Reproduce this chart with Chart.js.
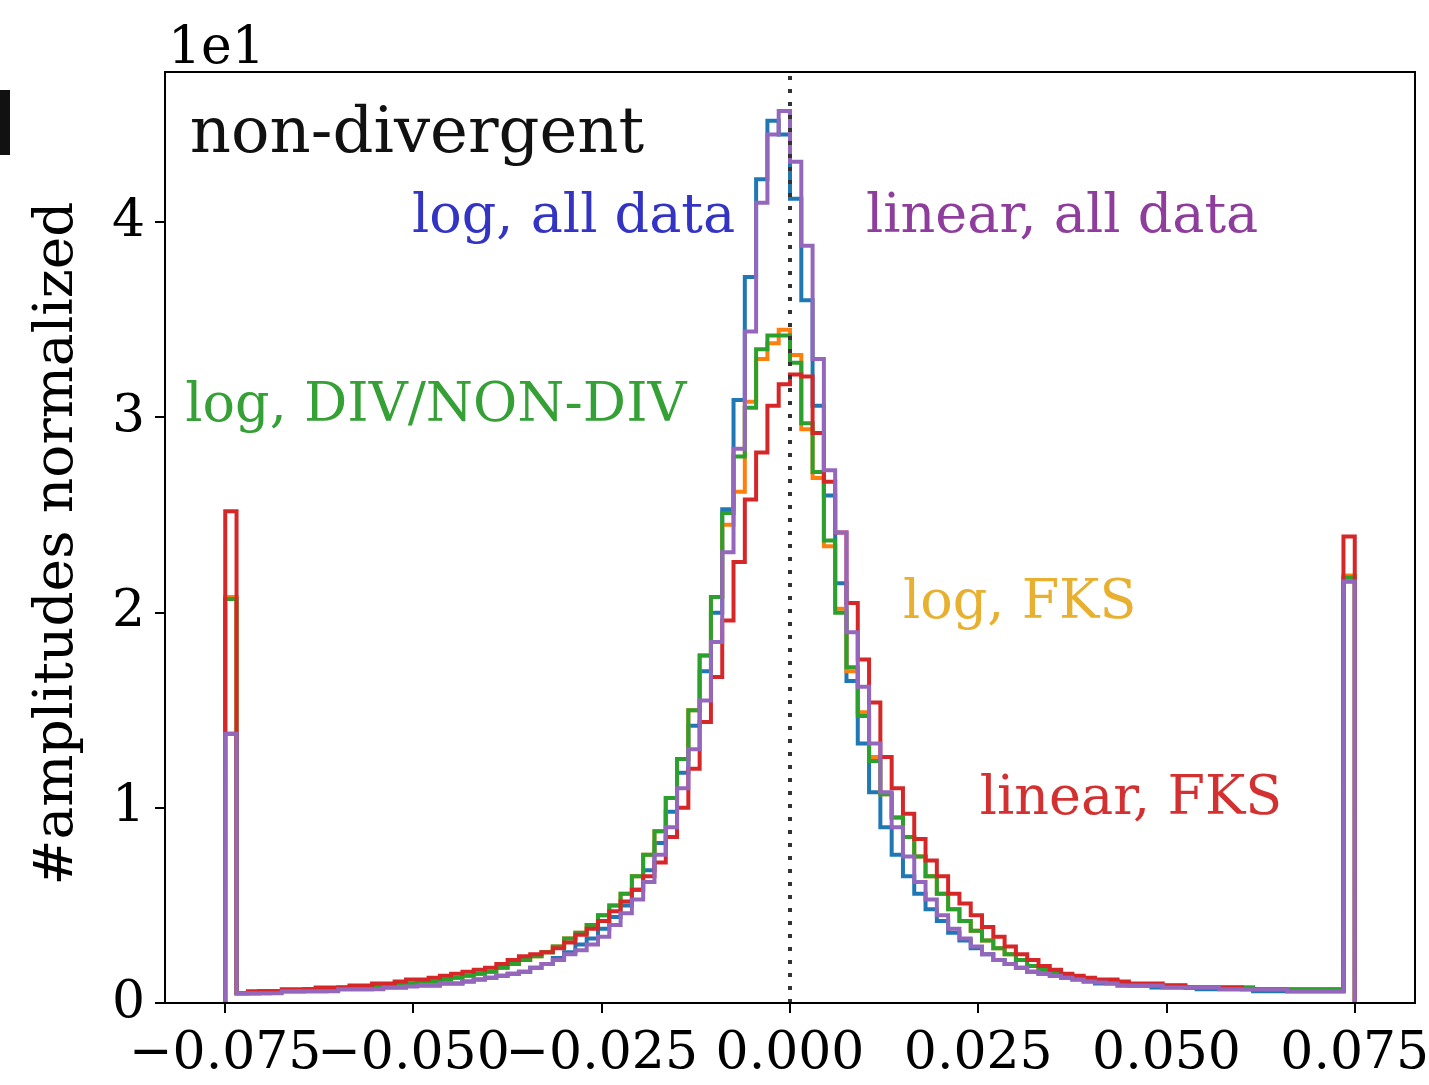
<!DOCTYPE html>
<html>
<head>
<meta charset="utf-8">
<script src="https://cdn.jsdelivr.net/npm/chart.js@4.4.0/dist/chart.umd.min.js"></script>
<style>
  html, body { margin: 0; padding: 0; background: #fff; }
  #wrap { width: 1429px; height: 1085px; }
</style>
</head>
<body>
<div id="wrap"><canvas id="histChart" width="1429" height="1085"></canvas></div>
<script>
// Step histograms of normalized amplitudes, 100 bins on [-0.075, 0.075]
// (outliers piled into the first and last bin)
const binStart = -0.075;
const binWidth = 0.0015;
const xTicks = [-0.075, -0.05, -0.025, 0, 0.025, 0.05, 0.075];
const yTicks = [0, 10, 20, 30, 40];

// blue
const logAllData = [13.8,
  0.5, 0.5, 0.5, 0.6, 0.6, 0.6, 0.6, 0.6, 0.7, 0.7, 0.7, 0.7, 0.8, 0.8, 0.8, 0.9, 0.9, 0.9, 1.0, 1.0,
  1.1, 1.2, 1.3, 1.4, 1.5, 1.6, 1.8, 2.0, 2.3, 2.6, 3.0, 3.3, 3.8, 4.4, 5.0, 5.8, 6.8, 8.2, 9.8, 11.8,
  14.2, 17.0, 20.0, 25.3, 30.9, 37.2, 42.2, 45.2, 44.5, 41.2, 36.0, 30.6, 26.0, 21.5, 16.5, 13.3, 10.8, 9.0, 7.6, 6.5,
  5.6, 4.8, 4.2, 3.6, 3.2, 2.8, 2.5, 2.2, 2.0, 1.8, 1.6, 1.5, 1.4, 1.3, 1.2, 1.1, 1.0, 1.0, 0.9, 0.9,
  0.9, 0.8, 0.8, 0.8, 0.8, 0.7, 0.7, 0.7, 0.7, 0.7, 0.6, 0.6, 0.6, 0.6, 0.6, 0.6, 0.6, 0.6, 21.6];

// orange
const logFks = [20.8,
  0.5, 0.5, 0.6, 0.6, 0.6, 0.6, 0.7, 0.7, 0.7, 0.8, 0.8, 0.8, 0.9, 0.9, 1.0, 1.0, 1.1, 1.1, 1.2, 1.3,
  1.4, 1.5, 1.6, 1.8, 2.0, 2.2, 2.4, 2.6, 2.9, 3.3, 3.6, 4.0, 4.5, 5.0, 5.6, 6.5, 7.6, 8.8, 10.5, 12.5,
  15.0, 17.8, 20.8, 24.5, 26.2, 30.8, 33.0, 33.8, 34.5, 33.2, 29.4, 26.9, 23.4, 20.2, 17.0, 14.9, 12.6, 10.7, 9.5, 8.5,
  7.5, 6.5, 5.6, 4.8, 4.2, 3.7, 3.2, 2.8, 2.5, 2.2, 1.9, 1.7, 1.55, 1.4, 1.3, 1.2, 1.15, 1.1, 1.0, 0.9,
  0.9, 0.9, 0.9, 0.9, 0.8, 0.8, 0.8, 0.8, 0.8, 0.8, 0.7, 0.7, 0.7, 0.7, 0.7, 0.7, 0.7, 0.7, 21.9];

// green
const logDivNonDiv = [20.7,
  0.5, 0.5, 0.6, 0.6, 0.6, 0.6, 0.7, 0.7, 0.7, 0.8, 0.8, 0.8, 0.9, 0.9, 1.0, 1.0, 1.1, 1.1, 1.2, 1.3,
  1.4, 1.5, 1.6, 1.8, 2.0, 2.2, 2.4, 2.6, 2.9, 3.3, 3.6, 4.0, 4.5, 5.0, 5.6, 6.5, 7.6, 8.8, 10.5, 12.5,
  15.0, 17.8, 20.8, 25.1, 28.0, 30.5, 33.5, 34.2, 34.2, 32.8, 29.7, 27.2, 23.7, 20.0, 17.2, 14.7, 12.4, 10.7, 9.5, 8.5,
  7.5, 6.5, 5.6, 4.8, 4.2, 3.7, 3.2, 2.8, 2.5, 2.2, 1.9, 1.7, 1.55, 1.4, 1.3, 1.2, 1.15, 1.1, 1.0, 0.9,
  0.9, 0.9, 0.9, 0.9, 0.8, 0.8, 0.8, 0.8, 0.8, 0.8, 0.7, 0.7, 0.7, 0.7, 0.7, 0.7, 0.7, 0.7, 21.8];

// red
const linearFks = [25.2,
  0.5, 0.6, 0.6, 0.6, 0.7, 0.7, 0.7, 0.8, 0.8, 0.8, 0.9, 0.9, 1.0, 1.0, 1.1, 1.2, 1.2, 1.3, 1.4, 1.5,
  1.6, 1.7, 1.8, 2.0, 2.2, 2.4, 2.5, 2.6, 2.8, 3.1, 3.5, 3.8, 4.2, 4.7, 5.2, 5.8, 6.5, 7.2, 8.5, 10.0,
  12.0, 14.4, 16.7, 19.6, 22.6, 25.8, 28.2, 30.6, 31.7, 32.2, 32.1, 29.2, 26.7, 24.1, 20.5, 17.6, 15.4, 12.6, 11.0, 9.7,
  8.4, 7.3, 6.5, 5.6, 5.1, 4.5, 3.9, 3.4, 2.9, 2.5, 2.2, 1.9, 1.7, 1.5, 1.4, 1.3, 1.2, 1.2, 1.1, 1.0,
  1.0, 1.0, 0.9, 0.9, 0.8, 0.8, 0.8, 0.8, 0.8, 0.7, 0.7, 0.7, 0.7, 0.6, 0.6, 0.6, 0.6, 0.6, 23.9];

// purple
const linearAllData = [13.8,
  0.5, 0.5, 0.5, 0.5, 0.6, 0.6, 0.6, 0.6, 0.6, 0.7, 0.7, 0.7, 0.7, 0.8, 0.8, 0.85, 0.9, 0.9, 1.0, 1.0,
  1.1, 1.2, 1.3, 1.4, 1.5, 1.6, 1.8, 2.0, 2.2, 2.5, 2.7, 3.0, 3.4, 4.0, 4.6, 5.3, 6.2, 7.6, 9.0, 11.0,
  13.0, 15.5, 18.5, 23.1, 28.4, 34.4, 41.0, 44.5, 45.7, 43.1, 38.8, 33.0, 27.3, 24.1, 19.0, 16.2, 13.3, 10.8, 9.0, 7.5,
  6.2, 5.3, 4.5, 3.8, 3.3, 2.9, 2.5, 2.2, 2.0, 1.8, 1.6, 1.5, 1.4, 1.3, 1.2, 1.1, 1.05, 1.0, 0.9, 0.9,
  0.9, 0.9, 0.8, 0.8, 0.8, 0.8, 0.8, 0.7, 0.7, 0.7, 0.7, 0.7, 0.7, 0.6, 0.6, 0.6, 0.6, 0.6, 21.6];

// text labels placed in data coordinates
const labels = [
  { text: 'non-divergent', color: '#111111', x: -0.0797, y: 43.6, size: 64 },
  { text: 'log, all data', color: '#3434c4', x: -0.0502, y: 39.5, size: 54 },
  { text: 'linear, all data', color: '#8e3d9c', x: 0.0101, y: 39.5, size: 54 },
  { text: 'log, DIV/NON-DIV', color: '#35a035', x: -0.0803, y: 29.8, size: 54 },
  { text: 'log, FKS', color: '#e8b030', x: 0.0150, y: 19.7, size: 54 },
  { text: 'linear, FKS', color: '#d33131', x: 0.0252, y: 9.7, size: 54 }
];

const FONT = "'DejaVu Serif', serif";

// turn bin heights into the outline of a step histogram
function stepPoints(values) {
  const pts = [{ x: binStart, y: 0 }];
  values.forEach((v, i) => pts.push({ x: binStart + i * binWidth, y: v }));
  const end = binStart + values.length * binWidth;
  pts.push({ x: end, y: values[values.length - 1] });
  pts.push({ x: end, y: 0 });
  return pts;
}

function histDataset(values, color, order) {
  return {
    data: stepPoints(values),
    borderColor: color,
    borderWidth: 4,
    stepped: 'before',   // horizontal run first, then the vertical step
    pointRadius: 0,
    fill: false,
    order: order,
    borderJoinStyle: 'miter'
  };
}

function minusSign(v) {
  return v.toFixed(3).replace('-', '\u2212');
}

// spines, axis title, offset text and the text labels
const decorations = {
  id: 'decorations',
  afterDraw(chart) {
    const ctx = chart.ctx;
    const a = chart.chartArea;
    const xs = chart.scales.x;
    const ys = chart.scales.y;
    ctx.save();

    ctx.strokeStyle = '#000';
    ctx.lineWidth = 2;
    ctx.strokeRect(a.left, a.top, a.right - a.left, a.bottom - a.top);

    labels.forEach(l => {
      ctx.font = l.size + 'px ' + FONT;
      ctx.fillStyle = l.color;
      ctx.textAlign = 'left';
      ctx.textBaseline = 'alphabetic';
      ctx.fillText(l.text, xs.getPixelForValue(l.x), ys.getPixelForValue(l.y));
    });

    ctx.fillStyle = '#000';
    ctx.font = '52px ' + FONT;
    ctx.textAlign = 'left';
    ctx.fillText('1e1', a.left + 3, a.top - 9);

    ctx.translate(58, (a.top + a.bottom) / 2 + 6);
    ctx.rotate(-Math.PI / 2);
    ctx.textAlign = 'center';
    ctx.textBaseline = 'middle';
    ctx.font = '55px ' + FONT;
    ctx.fillText('#amplitudes normalized', 0, 0);
    ctx.restore();

    // edge of the neighbouring panel letter
    ctx.fillStyle = '#111';
    ctx.fillRect(0, 90, 10, 65);
  }
};

const ctx = document.getElementById('histChart').getContext('2d');
new Chart(ctx, {
  type: 'line',
  data: {
    datasets: [
      histDataset(logAllData, '#1f77b4', 5),
      histDataset(logFks, '#ff7f0e', 4),
      histDataset(logDivNonDiv, '#2ca02c', 3),
      histDataset(linearFks, '#d62728', 2),
      histDataset(linearAllData, '#9467bd', 1),
      {
        data: [{ x: 0, y: 0 }, { x: 0, y: 47.7 }],
        borderColor: '#333',
        borderWidth: 4,
        borderDash: [4, 9],
        pointRadius: 0,
        fill: false,
        order: 0
      }
    ]
  },
  options: {
    responsive: false,
    animation: false,
    events: [],
    layout: { padding: { top: 72, right: 14, left: 0, bottom: 0 } },
    plugins: { legend: { display: false }, tooltip: { enabled: false } },
    scales: {
      x: {
        type: 'linear',
        min: -0.083,
        max: 0.083,
        afterFit(scale) {
          scale.height = 82;
          scale.paddingLeft = 0;
          scale.paddingRight = 0;
        },
        afterBuildTicks(scale) { scale.ticks = xTicks.map(v => ({ value: v })); },
        grid: { drawOnChartArea: false, drawTicks: true, tickLength: 10, color: '#000', lineWidth: 2 },
        border: { display: false },
        ticks: {
          autoSkip: false,
          maxRotation: 0,
          minRotation: 0,
          padding: 10,
          color: '#000',
          font: { family: FONT, size: 52 },
          callback: v => minusSign(v)
        }
      },
      y: {
        type: 'linear',
        min: 0,
        max: 47.7,
        afterFit(scale) { scale.width = 165; },
        afterBuildTicks(scale) { scale.ticks = yTicks.map(v => ({ value: v })); },
        grid: { drawOnChartArea: false, drawTicks: true, tickLength: 10, color: '#000', lineWidth: 2 },
        border: { display: false },
        ticks: {
          padding: 10,
          color: '#000',
          font: { family: FONT, size: 52 },
          callback: v => String(v / 10)
        }
      }
    }
  },
  plugins: [decorations]
});
</script>
</body>
</html>
